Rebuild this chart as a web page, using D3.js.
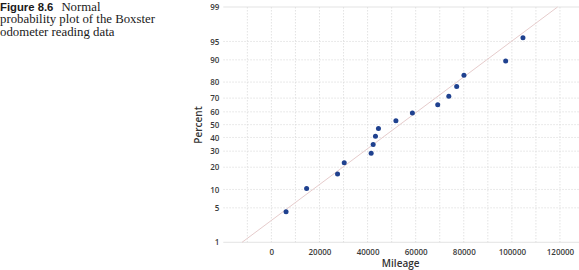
<!DOCTYPE html>
<html>
<head>
<meta charset="utf-8">
<script src="https://cdn.jsdelivr.net/npm/d3@7/dist/d3.min.js"></script>
<style>
  html, body { margin: 0; padding: 0; background: #fff; }
  svg { display: block; }
</style>
</head>
<body>
<svg id="chart" width="579" height="270"></svg>
<script>
// ---------------- data ----------------
const mileage = [6100, 14650, 27510, 30290, 41490, 42320, 43280, 44520,
                 51780, 58630, 69170, 73780, 77050, 80080, 97430, 104610];
const percent = [4.27, 10.37, 16.46, 22.56, 28.66, 34.76, 40.85, 46.95,
                 53.05, 59.15, 65.24, 71.34, 77.44, 83.54, 89.63, 95.73];
const fitPercent = [1, 99];
const fitMileage = [-12200, 119000];
const yTicks = [1, 5, 10, 20, 30, 40, 50, 60, 70, 80, 90, 95, 99];
const xTicks = [0, 20000, 40000, 60000, 80000, 100000, 120000];
const xGrid = [-10000, 0, 10000, 20000, 30000, 40000, 50000, 60000, 70000,
               80000, 90000, 100000, 110000, 120000, 130000];
const captionBold = "Figure 8.6";
const captionLines = ["Normal", "probability plot of the Boxster", "odometer reading data"];

// ---------------- inverse normal CDF (Acklam) ----------------
function probit(p) {
  const a = [-3.969683028665376e+01, 2.209460984245205e+02, -2.759285104469687e+02,
             1.383577518672690e+02, -3.066479806614716e+01, 2.506628277459239e+00];
  const b = [-5.447609879822406e+01, 1.615858368580409e+02, -1.556989798598866e+02,
             6.680131188771972e+01, -1.328068155288572e+01];
  const c = [-7.784894002430293e-03, -3.223964580411365e-01, -2.400758277161838e+00,
             -2.549732539343734e+00, 4.374664141464968e+00, 2.938163982698783e+00];
  const d = [7.784695709041462e-03, 3.224671290700398e-01, 2.445134137142996e+00,
             3.754408661907416e+00];
  const pl = 0.02425, ph = 1 - pl;
  let q, r;
  if (p < pl) {
    q = Math.sqrt(-2 * Math.log(p));
    return (((((c[0]*q+c[1])*q+c[2])*q+c[3])*q+c[4])*q+c[5]) /
           ((((d[0]*q+d[1])*q+d[2])*q+d[3])*q+1);
  } else if (p <= ph) {
    q = p - 0.5; r = q * q;
    return (((((a[0]*r+a[1])*r+a[2])*r+a[3])*r+a[4])*r+a[5])*q /
           (((((b[0]*r+b[1])*r+b[2])*r+b[3])*r+b[4])*r+1);
  } else {
    q = Math.sqrt(-2 * Math.log(1 - p));
    return -(((((c[0]*q+c[1])*q+c[2])*q+c[3])*q+c[4])*q+c[5]) /
            ((((d[0]*q+d[1])*q+d[2])*q+d[3])*q+1);
  }
}

// ---------------- layout ----------------
const svg = d3.select("#chart");
const plotLeft = 223.3, plotTop = 7, plotBottom = 242.3, plotRight = 584;

const x = d3.scaleLinear().domain([-20000, 130000]).range([plotLeft, plotRight]);
const yz = d3.scaleLinear().domain([probit(0.01), probit(0.99)]).range([plotBottom, plotTop]);
const y = p => yz(probit(p / 100));

const axisFont = "'Open Sans', 'Noto Sans', sans-serif";
const serif = "'Liberation Serif', 'Times New Roman', serif";

// caption
const cap = svg.append("g");
const t1 = cap.append("text").attr("x", 0).attr("y", 10.5)
  .style("font-family", serif).style("font-size", "12.8px").attr("fill", "#1a1a1a");
t1.append("tspan").text(captionBold)
  .style("font-family", "'Liberation Sans', Arial, sans-serif")
  .style("font-weight", "bold").style("font-size", "11.3px");
t1.append("tspan").attr("dx", 8).text(captionLines[0]);
captionLines.slice(1).forEach((s, i) => {
  cap.append("text").attr("x", 0).attr("y", 23 + i * 12.5)
    .style("font-family", serif).style("font-size", "12.8px")
    .attr("fill", "#1a1a1a").text(s);
});

// grid
const grid = svg.append("g");
grid.selectAll("line.v").data(xGrid).join("line").attr("class", "v")
  .attr("x1", d => x(d)).attr("x2", d => x(d))
  .attr("y1", plotTop).attr("y2", plotBottom)
  .attr("stroke", "#dcdcdc").attr("stroke-width", 0.8).attr("stroke-dasharray", "1.5,1.5");
grid.selectAll("line.h").data(yTicks).join("line").attr("class", "h")
  .attr("x1", plotLeft).attr("x2", plotRight)
  .attr("y1", d => y(d)).attr("y2", d => y(d))
  .attr("stroke", "#dcdcdc").attr("stroke-width", 0.8)
  .attr("stroke-dasharray", d => (d === 1 || d === 99) ? null : "1.5,1.5");

// y axis labels
const yAxis = d3.axisLeft(yz).tickValues(yTicks.map(p => probit(p / 100)))
  .tickFormat((d, i) => yTicks[i]).tickSize(0).tickPadding(4);
const gy = svg.append("g").attr("transform", `translate(${plotLeft},0)`).call(yAxis);
gy.select(".domain").remove();
gy.selectAll("text").style("font-family", axisFont).style("font-size", "8px")
  .style("font-weight", 600).attr("fill", "#3a3a3a");

// x axis labels
const xAxis = d3.axisBottom(x).tickValues(xTicks).tickFormat(d3.format("d"))
  .tickSize(0).tickPadding(7);
const gx = svg.append("g").attr("transform", `translate(0,${plotBottom})`).call(xAxis);
gx.select(".domain").remove();
gx.selectAll("text").style("font-family", axisFont).style("font-size", "8px")
  .style("font-weight", 600).attr("fill", "#3a3a3a");

// axis titles
svg.append("text").attr("x", x(60000) - 15).attr("y", 266.5)
  .attr("text-anchor", "middle").style("font-family", axisFont)
  .style("font-size", "10px").style("font-weight", 600).attr("fill", "#333").text("Mileage");
svg.append("text").attr("transform", `translate(202,125) rotate(-90)`)
  .attr("text-anchor", "middle").style("font-family", axisFont)
  .style("font-size", "10px").style("font-weight", 600).attr("fill", "#333").text("Percent");

// fitted line
const fitData = fitPercent.map((p, i) => ({ p, m: fitMileage[i] }));
svg.append("path").datum(fitData)
  .attr("d", d3.line().x(d => x(d.m)).y(d => y(d.p)))
  .attr("fill", "none").attr("stroke", "#e6cccc").attr("stroke-width", 1);

// points
svg.append("g").selectAll("circle").data(mileage).join("circle")
  .attr("cx", d => x(d)).attr("cy", (d, i) => y(percent[i]))
  .attr("r", 2.5).attr("fill", "#1f418f");
</script>
</body>
</html>
